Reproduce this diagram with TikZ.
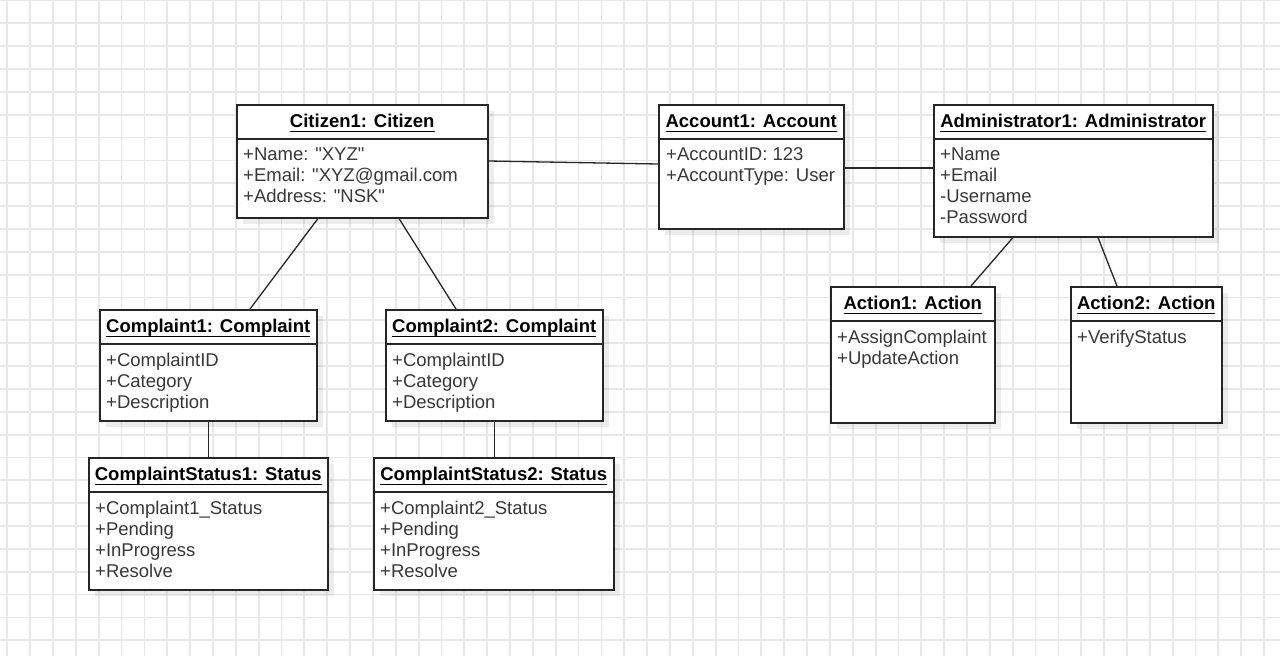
\documentclass[tikz,border=0pt]{standalone}
\usepackage{fontspec}
\setmainfont{Liberation Sans}[Ligatures=TeXOff]
\usetikzlibrary{calc,shadows}
\newsavebox{\titlebox}
\newcommand{\objname}[1]{\sbox\titlebox{#1}\rlap{\rule[-5.2pt]{\wd\titlebox}{1.5pt}}\usebox\titlebox}

\begin{document}
\begin{tikzpicture}[x=1pt,y=-1pt,
    gridline/.style={draw=black!9,line width=1.8pt},
    obj/.style={draw=black!85,line width=1.5pt,fill=white,anchor=north west,inner sep=0pt,
      drop shadow={shadow xshift=6pt,shadow yshift=-6pt,fill=black!60,opacity=.12}},
    objtitle/.style={anchor=base,inner sep=0pt,font=\fontsize{18.5}{21}\selectfont\bfseries},
    objattr/.style={anchor=north west,inner sep=0pt,align=left,text=black!78,
      font=\fontsize{18.5}{21}\selectfont},
    link/.style={draw=black!85,line width=1.3pt}]

    \useasboundingbox (0,0) rectangle (1280,656);
    \fill[white] (0,0) rectangle (1280,656);
    \foreach \i in {0,...,55}
      \draw[gridline] (7.3+\i*22.85,0) -- (7.3+\i*22.85,656);
    \foreach \j in {0,...,28}
      \draw[gridline] (0,0.45+\j*22.85) -- (1280,0.45+\j*22.85);

    % citizen, account, administrator
    \node[obj,minimum width=251pt,minimum height=113pt] (citizen) at (236,104) {};
    \node[objtitle] (citizen-t) at ($(citizen.north)+(0,-23pt)$) {\objname{Citizen1: Citizen}};
    \draw[link] ($(citizen.north west)+(0,-35pt)$) -- ($(citizen.north east)+(0,-35pt)$);
    \node[objattr] (citizen-a) at ($(citizen.north west)+(7pt,-43.7pt)$) {+Name: "XYZ"\\+Email: "XYZ@gmail.com\\+Address: "NSK"};

    \node[obj,minimum width=185pt,minimum height=124pt] (account) at (658,104) {};
    \node[objtitle] (account-t) at ($(account.north)+(0,-23pt)$) {\objname{Account1: Account}};
    \draw[link] ($(account.north west)+(0,-35pt)$) -- ($(account.north east)+(0,-35pt)$);
    \node[objattr] (account-a) at ($(account.north west)+(8pt,-43.7pt)$) {+AccountID: 123\\+AccountType: User};

    \node[obj,minimum width=279pt,minimum height=132pt] (admin) at (933,104) {};
    \node[objtitle] (admin-t) at ($(admin.north)+(0,-23pt)$) {\objname{Administrator1: Administrator}};
    \draw[link] ($(admin.north west)+(0,-35pt)$) -- ($(admin.north east)+(0,-35pt)$);
    \node[objattr] (admin-a) at ($(admin.north west)+(7pt,-43.7pt)$) {+Name\\+Email\\-Username\\-Password};

    % complaints
    \node[obj,minimum width=217pt,minimum height=111pt] (complaint1) at (99,309) {};
    \node[objtitle] (complaint1-t) at ($(complaint1.north)+(0,-23pt)$) {\objname{Complaint1: Complaint}};
    \draw[link] ($(complaint1.north west)+(0,-35pt)$) -- ($(complaint1.north east)+(0,-35pt)$);
    \node[objattr] (complaint1-a) at ($(complaint1.north west)+(7pt,-43.7pt)$) {+ComplaintID\\+Category\\+Description};

    \node[obj,minimum width=217pt,minimum height=111pt] (complaint2) at (385,309) {};
    \node[objtitle] (complaint2-t) at ($(complaint2.north)+(0,-23pt)$) {\objname{Complaint2: Complaint}};
    \draw[link] ($(complaint2.north west)+(0,-35pt)$) -- ($(complaint2.north east)+(0,-35pt)$);
    \node[objattr] (complaint2-a) at ($(complaint2.north west)+(7pt,-43.7pt)$) {+ComplaintID\\+Category\\+Description};

    % statuses
    \node[obj,minimum width=239pt,minimum height=132pt] (status1) at (88,457) {};
    \node[objtitle] (status1-t) at ($(status1.north)+(0,-23pt)$) {\objname{ComplaintStatus1: Status}};
    \draw[link] ($(status1.north west)+(0,-35pt)$) -- ($(status1.north east)+(0,-35pt)$);
    \node[objattr] (status1-a) at ($(status1.north west)+(7pt,-43.7pt)$) {+Complaint1\_Status\\+Pending\\+InProgress\\+Resolve};

    \node[obj,minimum width=240pt,minimum height=132pt] (status2) at (373,457) {};
    \node[objtitle] (status2-t) at ($(status2.north)+(0,-23pt)$) {\objname{ComplaintStatus2: Status}};
    \draw[link] ($(status2.north west)+(0,-35pt)$) -- ($(status2.north east)+(0,-35pt)$);
    \node[objattr] (status2-a) at ($(status2.north west)+(7pt,-43.7pt)$) {+Complaint2\_Status\\+Pending\\+InProgress\\+Resolve};

    % actions
    \node[obj,minimum width=164pt,minimum height=136pt] (action1) at (830,286) {};
    \node[objtitle] (action1-t) at ($(action1.north)+(0,-23pt)$) {\objname{Action1: Action}};
    \draw[link] ($(action1.north west)+(0,-35pt)$) -- ($(action1.north east)+(0,-35pt)$);
    \node[objattr] (action1-a) at ($(action1.north west)+(7pt,-43.7pt)$) {+AssignComplaint\\+UpdateAction};

    \node[obj,minimum width=151pt,minimum height=136pt] (action2) at (1070,286) {};
    \node[objtitle] (action2-t) at ($(action2.north)+(0,-23pt)$) {\objname{Action2: Action}};
    \draw[link] ($(action2.north west)+(0,-35pt)$) -- ($(action2.north east)+(0,-35pt)$);
    \node[objattr] (action2-a) at ($(action2.north west)+(7pt,-43.7pt)$) {+VerifyStatus};

    % links
    \draw[link] ($(citizen.north east)+(0,-57pt)$) -- ($(account.north west)+(0,-60pt)$);
    \draw[link] ($(account.north east)+(0,-64pt)$) -- ($(admin.north west)+(0,-64pt)$);
    \draw[link] ($(citizen.south west)+(82pt,0)$) -- ($(complaint1.north west)+(151pt,0)$);
    \draw[link] ($(citizen.south west)+(163pt,0)$) -- ($(complaint2.north west)+(71pt,0)$);
    \draw[link] (complaint1.south) -- (status1.north);
    \draw[link] (complaint2.south) -- (complaint2.south |- status2.north);
    \draw[link] ($(admin.south west)+(80pt,0)$) -- ($(action1.north west)+(141pt,0)$);
    \draw[link] ($(admin.south west)+(165pt,0)$) -- ($(action2.north west)+(47pt,0)$);
\end{tikzpicture}
\end{document}
